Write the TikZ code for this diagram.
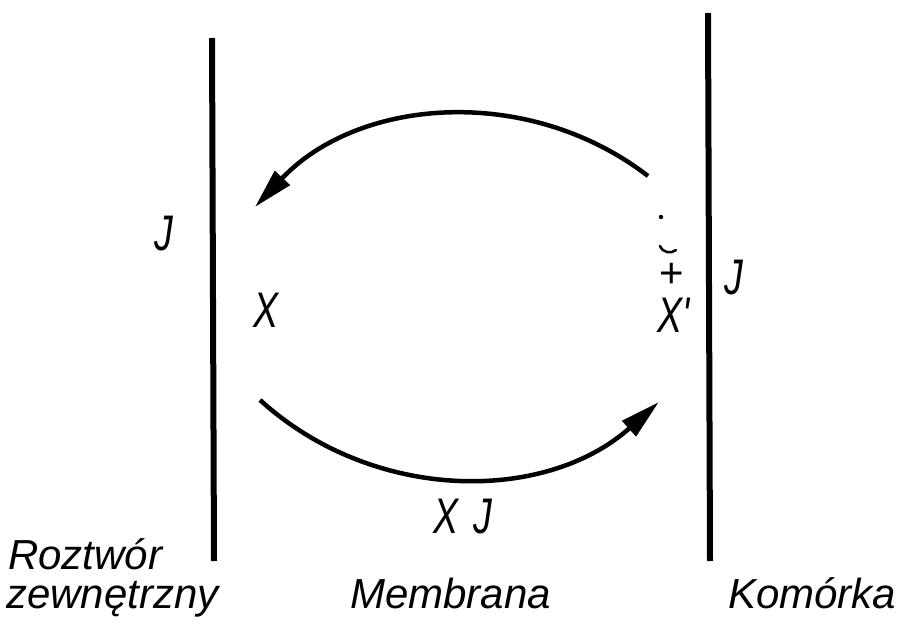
\documentclass[tikz,border=0pt]{standalone}
\usepackage{fontspec}
\newfontfamily\techfont{Liberation Sans}
\newfontfamily\symfont[FakeStretch=0.75]{Liberation Sans}
\usetikzlibrary{arrows.meta}
\begin{document}
\begin{tikzpicture}[x=1pt,y=-1pt,
  lbl/.style={font=\techfont\itshape\fontsize{42}{46}\selectfont, inner sep=0pt},
  sym/.style={font=\symfont\itshape\fontsize{50}{54}\selectfont, inner sep=0pt},
  small/.style={font=\techfont\fontsize{42}{46}\selectfont, inner sep=0pt},
  wall/.style={line width=6pt},
  flow/.style={line width=4.5pt, -{Triangle[length=40pt,width=20pt]}}]
\useasboundingbox (0,0) rectangle (910,631);
\fill[white] (0,0) rectangle (910,631);
% membrane walls
\coordinate (lt) at (212,38);
\coordinate (lb) at (214,561);
\coordinate (rt) at (708,13);
\coordinate (rb) at (710,561);
\draw[wall] (lt) -- (lb);
\draw[wall] (rt) -- (rb);
% arcs (circular)
\coordinate (ts) at (648,176);
\coordinate (bs) at (260,400);
\draw[flow] (ts) arc[start angle=-52.4, end angle=-136.6, radius=294];
\draw[flow] (bs) arc[start angle=132.3, end angle=48.3, radius=298];
% labels
\node[sym, anchor=base] (jl) at (164,250) {J};
\node[sym, anchor=base] (xl) at (266,327) {X};
\node[sym, anchor=base] (jr) at (734,294) {J};
\node[sym, anchor=base west] (xr) at (657,332) {X'};
\node[small, anchor=center] (plus) at (672,275) {+};
\fill (661,217) circle (2.2pt);
\draw[line width=2.5pt, line cap=round] (660,246) .. controls (663,253) and (671,254) .. (676,250);
\node[sym, anchor=base] (xj) at (463,533) {X\hspace{0.3em}J};
\node[lbl, anchor=base west] (roz) at (8,569) {Roztwór};
\node[lbl, anchor=base west] (zew) at (6,608) {zewnętrzny};
\node[lbl, anchor=base west] (mem) at (350,608) {Membrana};
\node[lbl, anchor=base west] (kom) at (728,608) {Komórka};
\end{tikzpicture}
\end{document}
